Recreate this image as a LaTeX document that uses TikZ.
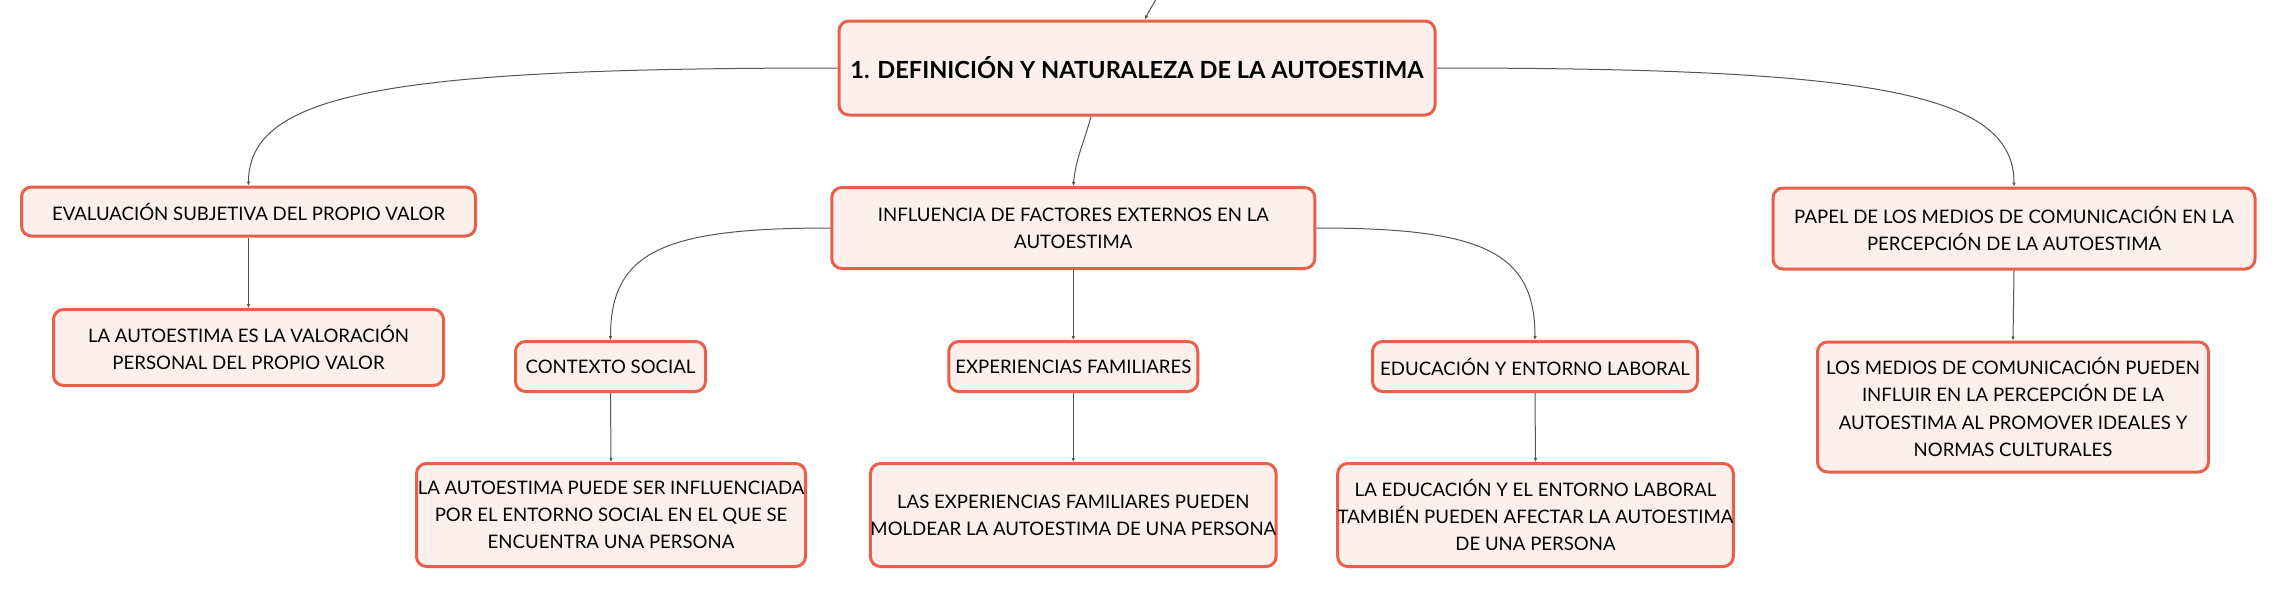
\documentclass[tikz,border=0pt]{standalone}
\usepackage{fontspec}
\setmainfont{Lato}
\usetikzlibrary{calc,arrows.meta}
\definecolor{topicborder}{HTML}{E8604A}
\definecolor{topicfill}{HTML}{FDF0EC}
\definecolor{branchgray}{HTML}{555555}
\tikzset{mytopic/.style 2 args = {draw=topicborder,fill=topicfill,line width=1.5pt,rounded corners=5pt,
  align=center,inner sep=0pt,minimum width=#1,minimum height=#2,font=\fontsize{9.3}{13.6}\selectfont},
  mybranch/.style = {draw=branchgray,line width=0.5pt,-{Latex[length=2pt,width=1.8pt]}}}
\NewDocumentCommand{\fbranch}{m m}{%
\draw[mybranch] (#1) .. controls ($(#1)!0.75!(#1 -| #2)$) and ($(#1 -| #2)!0.2!(#2)$) .. (#2);
}

\begin{document}
\begin{tikzpicture}[x=0.5pt,y=0.5pt]
\useasboundingbox (0,0) rectangle (2277,-590);
\node[mytopic={298pt}{47pt},font=\fontsize{11.8}{14}\selectfont\bfseries] (root) at (1137,-68) {1. DEFINICIÓN Y NATURALEZA DE LA AUTOESTIMA};

\node[mytopic={227pt}{24.5pt}] (eval) at (248.5,-211.5) {EVALUACIÓN SUBJETIVA DEL PROPIO VALOR};
\node[mytopic={195pt}{38pt}] (evalc) at (248.5,-347.5) {LA AUTOESTIMA ES LA VALORACIÓN\\PERSONAL DEL PROPIO VALOR};

\node[mytopic={241.5pt}{40.5pt}] (infl) at (1073.3,-228) {INFLUENCIA DE FACTORES EXTERNOS EN LA\\AUTOESTIMA};
\node[mytopic={95pt}{25pt}] (ctx) at (610.5,-366.5) {CONTEXTO SOCIAL};
\node[mytopic={194.5pt}{51.5pt}] (ctxc) at (611,-515) {LA AUTOESTIMA PUEDE SER INFLUENCIADA\\POR EL ENTORNO SOCIAL EN EL QUE SE\\ENCUENTRA UNA PERSONA};
\node[mytopic={124.5pt}{25pt}] (exp) at (1073.3,-366.5) {EXPERIENCIAS FAMILIARES};
\node[mytopic={194.5pt}{51.5pt}] (expc) at (1073.3,-515) {LAS EXPERIENCIAS FAMILIARES PUEDEN\\MOLDEAR LA AUTOESTIMA DE UNA PERSONA};
\node[mytopic={162.5pt}{25pt}] (edu) at (1535,-366.5) {EDUCACIÓN Y ENTORNO LABORAL};
\node[mytopic={195pt}{51.5pt}] (educ) at (1535.5,-515) {LA EDUCACIÓN Y EL ENTORNO LABORAL\\TAMBIÉN PUEDEN AFECTAR LA AUTOESTIMA\\DE UNA PERSONA};

\node[mytopic={241pt}{40.5pt}] (papel) at (2014,-228.5) {PAPEL DE LOS MEDIOS DE COMUNICACIÓN EN LA\\PERCEPCIÓN DE LA AUTOESTIMA};
\node[mytopic={195.5pt}{65pt}] (papelc) at (2013,-407) {LOS MEDIOS DE COMUNICACIÓN PUEDEN\\INFLUIR EN LA PERCEPCIÓN DE LA\\AUTOESTIMA AL PROMOVER IDEALES Y\\NORMAS CULTURALES};

\coordinate (above) at (1162,12);
\draw[mybranch] (above) to[out=-115,in=65] ([xshift=4pt]root.north);
\draw[mybranch] ([xshift=-23pt]root.south) to[out=-105,in=85] (infl.north);
\fbranch{root.west}{eval.north}
\fbranch{root.east}{papel.north}
\fbranch{infl.west}{ctx.north}
\fbranch{infl.east}{edu.north}
\draw[mybranch] (eval.south) -- (evalc.north);
\draw[mybranch] (infl.south) -- (exp.north);
\draw[mybranch] (ctx.south) -- (ctxc.north);
\draw[mybranch] (exp.south) -- (expc.north);
\draw[mybranch] (edu.south) -- (educ.north);
\draw[mybranch] (papel.south) -- (papelc.north);
\end{tikzpicture}
\end{document}
